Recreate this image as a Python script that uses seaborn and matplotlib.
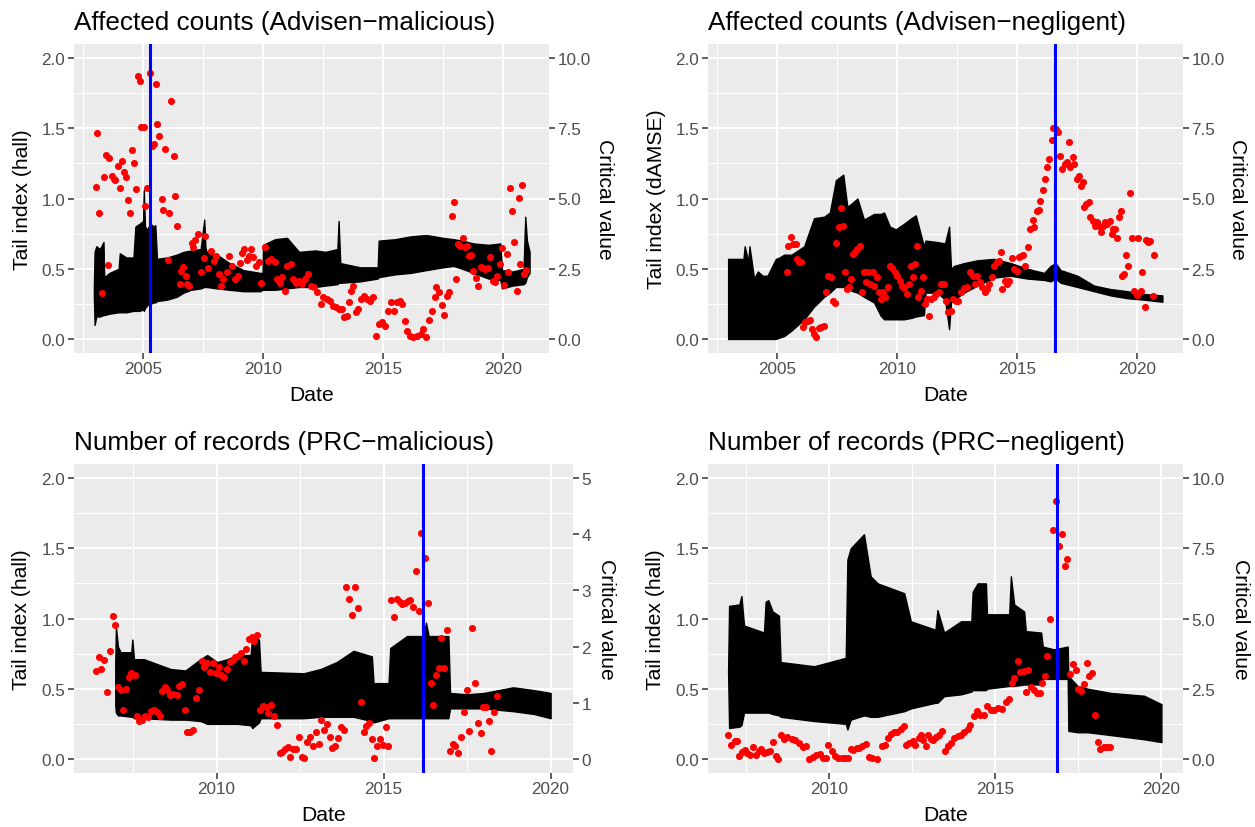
import numpy as np
import pandas as pd
import matplotlib
matplotlib.use("Agg")
import matplotlib.pyplot as plt
import seaborn as sns

# ---------------- data ----------------
titles = ["Affected counts (Advisen\u2212malicious)", "Affected counts (Advisen\u2212negligent)",
          "Number of records (PRC\u2212malicious)", "Number of records (PRC\u2212negligent)"]
left_labels = ["Tail index (hall)", "Tail index (dAMSE)", "Tail index (hall)", "Tail index (hall)"]
right_label = "Critical value"
x_label = "Date"
change_points = [2005.27, 2016.59, 2016.17, 2016.87]

# black band: envelope of the tail-index path (primary axis)
band1_t = [2002.95, 2002.98, 2003.05, 2003.20, 2003.35, 2003.38, 2003.60, 2003.98, 2004.03, 2004.30,
           2004.60, 2004.68, 2004.85, 2005.00, 2005.03, 2005.08, 2005.17, 2005.30, 2005.45, 2005.51,
           2005.58, 2006.00, 2006.40, 2006.69, 2007.00, 2007.40, 2007.55, 2007.60, 2007.65, 2008.08,
           2008.60, 2009.19, 2009.89, 2009.98, 2010.00, 2010.50, 2011.00, 2011.50, 2012.18, 2012.60,
           2013.10, 2013.15, 2013.22, 2014.05, 2014.78, 2014.82, 2015.50, 2016.14, 2016.80, 2017.50,
           2017.94, 2018.30, 2018.77, 2019.40, 2019.89, 2019.96, 2020.40, 2020.86, 2020.93, 2021.00,
           2021.11]
band1_hi = [0.38, 0.62, 0.66, 0.64, 0.69, 0.44, 0.47, 0.50, 0.61, 0.58,
            0.58, 0.80, 0.82, 0.84, 1.06, 0.80, 0.78, 0.82, 0.80, 0.81,
            0.57, 0.58, 0.60, 0.62, 0.63, 0.64, 0.85, 0.65, 0.62, 0.60,
            0.54, 0.49, 0.47, 0.47, 0.67, 0.71, 0.72, 0.62, 0.63, 0.62,
            0.64, 0.84, 0.54, 0.51, 0.51, 0.70, 0.71, 0.73, 0.74, 0.72,
            0.71, 0.70, 0.68, 0.67, 0.68, 0.49, 0.48, 0.50, 0.87, 0.70,
            0.62]
band1_lo = [0.30, 0.10, 0.16, 0.16, 0.17, 0.17, 0.18, 0.19, 0.19, 0.19,
            0.20, 0.20, 0.20, 0.21, 0.20, 0.22, 0.24, 0.25, 0.26, 0.26,
            0.27, 0.28, 0.30, 0.33, 0.35, 0.36, 0.37, 0.37, 0.37, 0.36,
            0.35, 0.34, 0.34, 0.35, 0.35, 0.35, 0.36, 0.37, 0.37, 0.38,
            0.39, 0.40, 0.40, 0.41, 0.43, 0.44, 0.46, 0.47, 0.49, 0.51,
            0.52, 0.50, 0.47, 0.43, 0.42, 0.36, 0.38, 0.39, 0.40, 0.44,
            0.47]

band2_t = [2002.96, 2003.30, 2003.60, 2003.65, 2003.80, 2003.85, 2004.04, 2004.20, 2004.40, 2004.60,
           2004.95, 2005.10, 2005.29, 2005.60, 2006.13, 2006.54, 2006.96, 2007.20, 2007.45, 2007.76,
           2007.93, 2008.15, 2008.35, 2008.62, 2009.04, 2009.32, 2009.46, 2009.70, 2009.95, 2010.29,
           2010.60, 2010.78, 2011.12, 2011.19, 2011.68, 2012.00, 2012.17, 2012.25, 2012.38, 2012.79,
           2013.35, 2014.04, 2014.74, 2015.43, 2016.13, 2016.40, 2016.61, 2016.82, 2017.52, 2018.21,
           2018.90, 2019.60, 2020.29, 2021.06]
band2_hi = [0.57, 0.57, 0.57, 0.66, 0.55, 0.66, 0.43, 0.48, 0.45, 0.45,
            0.57, 0.58, 0.60, 0.60, 0.66, 0.86, 0.87, 0.90, 1.13, 1.17,
            0.94, 0.97, 1.00, 0.85, 0.89, 0.89, 0.90, 0.80, 0.78, 0.82,
            0.86, 0.88, 0.66, 0.70, 0.69, 0.68, 0.80, 0.50, 0.52, 0.54,
            0.56, 0.57, 0.54, 0.50, 0.47, 0.52, 0.54, 0.49, 0.45, 0.38,
            0.355, 0.34, 0.32, 0.31]
band2_lo = [0.0, 0.0, 0.0, 0.0, 0.0, 0.0, 0.0, 0.0, 0.0, 0.0,
            0.0, 0.01, 0.02, 0.06, 0.14, 0.23, 0.30, 0.33, 0.37, 0.37,
            0.36, 0.34, 0.33, 0.30, 0.26, 0.165, 0.14, 0.14, 0.14, 0.14,
            0.15, 0.16, 0.17, 0.33, 0.33, 0.28, 0.07, 0.26, 0.28, 0.33,
            0.38, 0.437, 0.45, 0.43, 0.42, 0.41, 0.43, 0.40, 0.37, 0.34,
            0.31, 0.29, 0.28, 0.265]

band3_t = [2006.97, 2006.99, 2007.05, 2007.13, 2007.45, 2007.48, 2007.53, 2007.83, 2008.63, 2009.07,
           2009.52, 2009.72, 2010.02, 2010.32, 2010.62, 2011.02, 2011.07, 2011.27, 2011.32, 2012.61,
           2013.11, 2013.60, 2014.10, 2014.65, 2014.70, 2015.15, 2015.20, 2015.70, 2016.20, 2016.27,
           2016.35, 2016.94, 2016.99, 2017.50, 2018.00, 2018.88, 2019.50, 2020.00]
band3_hi = [0.68, 0.94, 0.80, 0.76, 0.76, 0.85, 0.71, 0.71, 0.64, 0.63,
            0.71, 0.74, 0.69, 0.71, 0.74, 0.74, 0.87, 0.85, 0.62, 0.61,
            0.64, 0.69, 0.77, 0.73, 0.54, 0.54, 0.79, 0.875, 0.875, 0.97,
            0.875, 0.875, 0.47, 0.46, 0.47, 0.51, 0.49, 0.47]
band3_lo = [0.38, 0.33, 0.31, 0.31, 0.30, 0.30, 0.29, 0.29, 0.28, 0.28,
            0.27, 0.25, 0.25, 0.25, 0.25, 0.24, 0.22, 0.26, 0.29, 0.29,
            0.30, 0.30, 0.30, 0.27, 0.26, 0.29, 0.29, 0.29, 0.29, 0.29,
            0.29, 0.29, 0.36, 0.36, 0.36, 0.34, 0.32, 0.29]

band4_t = [2006.96, 2006.99, 2007.30, 2007.36, 2007.44, 2008.04, 2008.09, 2008.17, 2008.30, 2008.49,
           2008.54, 2009.55, 2010.50, 2010.55, 2010.65, 2011.05, 2011.25, 2011.46, 2012.26, 2012.46,
           2013.20, 2013.26, 2013.46, 2013.97, 2014.28, 2014.32, 2014.47, 2014.72, 2014.75, 2015.42,
           2015.47, 2015.57, 2015.87, 2015.92, 2016.38, 2016.43, 2016.77, 2017.18, 2017.20, 2017.48,
           2017.78, 2018.48, 2019.48, 2020.00]
band4_hi = [0.63, 1.09, 1.10, 1.16, 0.95, 0.90, 1.12, 1.13, 1.05, 1.02,
            0.69, 0.66, 0.72, 1.42, 1.50, 1.60, 1.30, 1.25, 1.18, 0.98,
            0.92, 1.06, 0.90, 0.98, 0.98, 1.19, 1.25, 1.25, 1.03, 1.03,
            1.30, 1.10, 1.05, 0.91, 0.90, 0.80, 0.78, 0.80, 0.59, 0.52,
            0.50, 0.47, 0.45, 0.39]
band4_lo = [0.62, 0.22, 0.23, 0.24, 0.33, 0.33, 0.33, 0.33, 0.32, 0.31,
            0.30, 0.27, 0.25, 0.21, 0.28, 0.31, 0.30, 0.30, 0.34, 0.36,
            0.40, 0.40, 0.447, 0.46, 0.48, 0.49, 0.49, 0.49, 0.50, 0.52,
            0.52, 0.52, 0.53, 0.53, 0.53, 0.57, 0.57, 0.57, 0.20, 0.19,
            0.19, 0.17, 0.14, 0.12]

# red points: critical values, expressed on the primary (tail index) scale
pts1_t = [2003.02, 2003.10, 2003.18, 2003.28, 2003.37, 2003.45, 2003.52, 2003.60, 2003.70, 2003.78,
          2003.85, 2003.95, 2004.03, 2004.12, 2004.20, 2004.28, 2004.37, 2004.45, 2004.52, 2004.62,
          2004.70, 2004.77, 2004.87, 2004.93, 2005.02, 2005.08, 2005.15, 2005.27, 2005.38, 2005.45,
          2005.52, 2005.60, 2005.68, 2005.77, 2005.85, 2005.93, 2006.02, 2006.10, 2006.18, 2006.27,
          2006.35, 2006.43, 2006.52, 2006.60, 2006.68, 2006.77, 2006.85, 2006.93, 2007.02, 2007.10,
          2007.18, 2007.27, 2007.42, 2007.52, 2007.60, 2007.72, 2007.85, 2007.97, 2008.05, 2008.17,
          2008.25, 2008.35, 2008.50, 2008.58, 2008.72, 2008.83, 2008.95, 2009.05, 2009.13, 2009.22,
          2009.32, 2009.40, 2009.50, 2009.60, 2009.70, 2009.82, 2009.93, 2010.08, 2010.22, 2010.35,
          2010.48, 2010.58, 2010.70, 2010.80, 2010.92, 2011.02, 2011.15, 2011.27, 2011.38, 2011.50,
          2011.62, 2011.75, 2011.88, 2012.00, 2012.12, 2012.25, 2012.40, 2012.52, 2012.65, 2012.78,
          2012.92, 2013.05, 2013.17, 2013.28, 2013.38, 2013.48, 2013.58, 2013.68, 2013.77, 2013.87,
          2013.97, 2014.08, 2014.22, 2014.33, 2014.47, 2014.58, 2014.70, 2014.83, 2014.95, 2015.08,
          2015.20, 2015.33, 2015.47, 2015.58, 2015.70, 2015.80, 2015.92, 2016.02, 2016.12, 2016.25,
          2016.42, 2016.58, 2016.68, 2016.80, 2016.92, 2017.05, 2017.15, 2017.23, 2017.33, 2017.45,
          2017.55, 2017.67, 2017.75, 2017.88, 2017.95, 2018.03, 2018.12, 2018.23, 2018.32, 2018.42,
          2018.50, 2018.58, 2018.68, 2018.77, 2018.87, 2018.97, 2019.07, 2019.17, 2019.27, 2019.37,
          2019.47, 2019.57, 2019.67, 2019.77, 2019.87, 2019.97, 2020.05, 2020.15, 2020.23, 2020.30,
          2020.38, 2020.48, 2020.57, 2020.65, 2020.73, 2020.80, 2020.88, 2020.95]
pts1_v = [1.084, 1.464, 0.900, 0.325, 1.155, 1.310, 0.530, 1.286, 1.160, 1.140,
          1.130, 1.230, 1.075, 1.265, 1.190, 1.155, 0.990, 0.900, 1.347, 1.255,
          1.065, 1.874, 1.834, 1.510, 1.510, 0.950, 1.075, 1.895, 1.374, 1.386,
          1.815, 1.528, 1.447, 0.996, 0.918, 1.352, 0.565, 0.900, 1.696, 1.305,
          1.020, 0.807, 0.390, 0.486, 0.515, 0.450, 0.390, 0.380, 0.683, 0.652,
          0.707, 0.745, 0.474, 0.574, 0.735, 0.503, 0.629, 0.555, 0.588, 0.463,
          0.380, 0.427, 0.474, 0.588, 0.520, 0.427, 0.450, 0.540, 0.612, 0.640,
          0.565, 0.593, 0.640, 0.586, 0.522, 0.546, 0.400, 0.652, 0.557, 0.569,
          0.546, 0.427, 0.400, 0.440, 0.340, 0.522, 0.534, 0.427, 0.400, 0.415,
          0.390, 0.427, 0.463, 0.380, 0.368, 0.332, 0.249, 0.297, 0.285, 0.273,
          0.237, 0.225, 0.214, 0.214, 0.154, 0.166, 0.261, 0.344, 0.380, 0.190,
          0.214, 0.285, 0.308, 0.285, 0.273, 0.297, 0.024, 0.107, 0.119, 0.095,
          0.202, 0.261, 0.202, 0.261, 0.273, 0.249, 0.130, 0.059, 0.024, 0.012,
          0.019, 0.036, 0.071, 0.012, 0.138, 0.202, 0.297, 0.368, 0.332, 0.242,
          0.171, 0.308, 0.337, 0.878, 0.977, 0.427, 0.676, 0.664, 0.719, 0.652,
          0.664, 0.593, 0.598, 0.486, 0.432, 0.380, 0.510, 0.503, 0.498, 0.503,
          0.581, 0.415, 0.408, 0.450, 0.534, 0.645, 0.384, 0.605, 0.479, 1.072,
          0.911, 0.688, 0.340, 1.001, 0.534, 1.096, 0.463, 0.493]

pts2_t = [2005.42, 2005.47, 2005.57, 2005.67, 2005.77, 2005.83, 2005.93, 2006.00, 2006.07, 2006.17,
          2006.27, 2006.37, 2006.44, 2006.54, 2006.64, 2006.74, 2006.84, 2006.94, 2007.04, 2007.14,
          2007.24, 2007.34, 2007.40, 2007.47, 2007.57, 2007.65, 2007.74, 2007.82, 2007.92, 2008.00,
          2008.09, 2008.17, 2008.26, 2008.34, 2008.44, 2008.54, 2008.62, 2008.71, 2008.81, 2008.89,
          2008.99, 2009.06, 2009.16, 2009.24, 2009.32, 2009.41, 2009.51, 2009.61, 2009.71, 2009.81,
          2009.91, 2010.00, 2010.11, 2010.21, 2010.31, 2010.41, 2010.51, 2010.58, 2010.68, 2010.74,
          2010.83, 2010.89, 2010.99, 2011.08, 2011.18, 2011.24, 2011.33, 2011.43, 2011.54, 2011.64,
          2011.74, 2011.84, 2011.94, 2012.04, 2012.14, 2012.24, 2012.34, 2012.44, 2012.54, 2012.68,
          2012.78, 2012.91, 2013.05, 2013.15, 2013.25, 2013.35, 2013.45, 2013.55, 2013.65, 2013.75,
          2013.85, 2013.95, 2014.05, 2014.15, 2014.25, 2014.32, 2014.38, 2014.48, 2014.58, 2014.68,
          2014.78, 2014.88, 2014.98, 2015.08, 2015.18, 2015.27, 2015.35, 2015.47, 2015.55, 2015.65,
          2015.73, 2015.82, 2015.90, 2015.98, 2016.07, 2016.17, 2016.27, 2016.35, 2016.44, 2016.52,
          2016.64, 2016.72, 2016.80, 2016.89, 2016.99, 2017.07, 2017.15, 2017.22, 2017.32, 2017.39,
          2017.49, 2017.57, 2017.65, 2017.74, 2017.80, 2017.89, 2017.99, 2018.06, 2018.16, 2018.24,
          2018.32, 2018.42, 2018.49, 2018.59, 2018.66, 2018.76, 2018.86, 2018.94, 2019.02, 2019.09,
          2019.17, 2019.26, 2019.32, 2019.39, 2019.47, 2019.54, 2019.64, 2019.72, 2019.81, 2019.89,
          2019.99, 2020.06, 2020.16, 2020.23, 2020.33, 2020.39, 2020.48, 2020.56, 2020.66, 2020.73]
pts2_v = [0.474, 0.664, 0.724, 0.676, 0.676, 0.569, 0.546, 0.550, 0.083, 0.119,
          0.130, 0.138, 0.071, 0.036, 0.012, 0.076, 0.083, 0.095, 0.332, 0.450,
          0.439, 0.273, 0.256, 0.683, 0.795, 0.930, 0.807, 0.479, 0.356, 0.368,
          0.427, 0.605, 0.617, 0.640, 0.664, 0.332, 0.474, 0.403, 0.474, 0.391,
          0.474, 0.380, 0.439, 0.332, 0.285, 0.332, 0.297, 0.368, 0.522, 0.503,
          0.479, 0.450, 0.415, 0.380, 0.360, 0.320, 0.391, 0.522, 0.439, 0.534,
          0.664, 0.297, 0.344, 0.439, 0.249, 0.285, 0.166, 0.285, 0.297, 0.320,
          0.332, 0.391, 0.391, 0.273, 0.190, 0.202, 0.285, 0.273, 0.273, 0.332,
          0.360, 0.368, 0.474, 0.450, 0.391, 0.450, 0.403, 0.368, 0.332, 0.356,
          0.391, 0.439, 0.522, 0.546, 0.557, 0.617, 0.356, 0.415, 0.391, 0.415,
          0.574, 0.498, 0.486, 0.581, 0.588, 0.598, 0.522, 0.652, 0.783, 0.849,
          0.800, 0.911, 0.920, 0.980, 1.063, 1.139, 1.222, 1.281, 1.419, 1.499,
          1.495, 1.471, 1.305, 1.210, 1.246, 1.262, 1.400, 1.222, 1.293, 1.246,
          1.139, 1.163, 1.091, 1.115, 0.937, 0.961, 0.973, 0.866, 0.842, 0.807,
          0.835, 0.807, 0.759, 0.807, 0.830, 0.819, 0.842, 0.747, 0.783, 0.783,
          0.717, 0.866, 0.913, 0.450, 0.463, 0.598, 0.522, 1.039, 0.717, 0.344,
          0.313, 0.717, 0.344, 0.474, 0.225, 0.707, 0.693, 0.700, 0.308, 0.598]

pts3_t = [2006.38, 2006.47, 2006.55, 2006.63, 2006.72, 2006.80, 2006.89, 2006.97, 2007.04, 2007.13,
          2007.21, 2007.30, 2007.37, 2007.45, 2007.55, 2007.62, 2007.69, 2007.78, 2007.86, 2007.96,
          2008.04, 2008.13, 2008.22, 2008.30, 2008.38, 2008.46, 2008.53, 2008.62, 2008.71, 2008.81,
          2008.89, 2008.98, 2009.05, 2009.12, 2009.21, 2009.29, 2009.39, 2009.47, 2009.56, 2009.64,
          2009.72, 2009.81, 2009.89, 2009.98, 2010.06, 2010.14, 2010.23, 2010.31, 2010.40, 2010.48,
          2010.56, 2010.65, 2010.73, 2010.81, 2010.89, 2010.96, 2011.05, 2011.13, 2011.21, 2011.30,
          2011.38, 2011.47, 2011.55, 2011.63, 2011.72, 2011.80, 2011.89, 2011.96, 2012.04, 2012.13,
          2012.21, 2012.30, 2012.39, 2012.48, 2012.55, 2012.63, 2012.72, 2012.80, 2012.88, 2012.97,
          2013.06, 2013.14, 2013.22, 2013.31, 2013.39, 2013.47, 2013.56, 2013.64, 2013.73, 2013.81,
          2013.89, 2013.98, 2014.06, 2014.15, 2014.23, 2014.31, 2014.40, 2014.47, 2014.56, 2014.64,
          2014.72, 2014.81, 2014.89, 2014.98, 2015.06, 2015.14, 2015.23, 2015.31, 2015.40, 2015.48,
          2015.56, 2015.64, 2015.72, 2015.79, 2015.88, 2015.96, 2016.05, 2016.13, 2016.25, 2016.32,
          2016.41, 2016.48, 2016.56, 2016.65, 2016.73, 2016.81, 2016.90, 2016.98, 2017.07, 2017.15,
          2017.24, 2017.32, 2017.40, 2017.49, 2017.57, 2017.66, 2017.74, 2017.82, 2017.91, 2017.99,
          2018.08, 2018.15, 2018.23, 2018.32, 2018.40]
pts3_v = [0.626, 0.724, 0.643, 0.705, 0.479, 0.766, 1.020, 0.956, 0.510, 0.491,
          0.349, 0.496, 0.581, 0.610, 0.600, 0.308, 0.273, 0.278, 0.308, 0.301,
          0.344, 0.349, 0.332, 0.308, 0.482, 0.515, 0.491, 0.458, 0.463, 0.458,
          0.522, 0.534, 0.349, 0.190, 0.190, 0.206, 0.434, 0.491, 0.695, 0.657,
          0.681, 0.617, 0.681, 0.610, 0.652, 0.600, 0.581, 0.640, 0.688, 0.705,
          0.724, 0.735, 0.752, 0.700, 0.783, 0.854, 0.866, 0.842, 0.885, 0.349,
          0.380, 0.372, 0.325, 0.387, 0.308, 0.244, 0.040, 0.047, 0.071, 0.083,
          0.012, 0.071, 0.071, 0.159, 0.012, 0.007, 0.119, 0.154, 0.095, 0.190,
          0.107, 0.278, 0.206, 0.249, 0.159, 0.078, 0.095, 0.149, 0.225, 0.206,
          1.227, 1.139, 1.027, 1.227, 1.072, 0.403, 0.190, 0.237, 0.254, 0.142,
          0.007, 0.090, 0.142, 0.102, 0.230, 0.095, 1.132, 1.013, 1.139, 1.115,
          1.103, 1.108, 1.122, 1.132, 1.079, 1.340, 1.051, 1.606, 1.431, 1.108,
          0.539, 0.384, 0.600, 0.645, 0.861, 0.648, 0.918, 0.059, 0.107, 0.095,
          0.040, 0.159, 0.332, 0.491, 0.197, 0.932, 0.539, 0.254, 0.183, 0.368,
          0.368, 0.268, 0.059, 0.332, 0.451]

pts4_t = [2006.96, 2007.04, 2007.16, 2007.24, 2007.29, 2007.39, 2007.46, 2007.52, 2007.62, 2007.72,
          2007.80, 2007.89, 2007.96, 2008.04, 2008.12, 2008.21, 2008.31, 2008.39, 2008.47, 2008.54,
          2008.64, 2008.74, 2008.87, 2008.97, 2009.10, 2009.20, 2009.30, 2009.40, 2009.50, 2009.60,
          2009.73, 2009.83, 2009.90, 2009.98, 2010.08, 2010.18, 2010.28, 2010.38, 2010.48, 2010.57,
          2010.65, 2010.73, 2010.83, 2010.91, 2011.00, 2011.10, 2011.20, 2011.30, 2011.45, 2011.58,
          2011.69, 2011.76, 2011.86, 2011.96, 2012.04, 2012.16, 2012.24, 2012.31, 2012.41, 2012.51,
          2012.59, 2012.69, 2012.76, 2012.84, 2012.91, 2012.98, 2013.06, 2013.14, 2013.23, 2013.31,
          2013.39, 2013.49, 2013.58, 2013.67, 2013.77, 2013.87, 2013.97, 2014.07, 2014.17, 2014.25,
          2014.35, 2014.45, 2014.55, 2014.65, 2014.74, 2014.87, 2014.97, 2015.07, 2015.19, 2015.32,
          2015.42, 2015.49, 2015.57, 2015.67, 2015.75, 2015.85, 2015.92, 2016.00, 2016.07, 2016.17,
          2016.26, 2016.35, 2016.42, 2016.50, 2016.57, 2016.65, 2016.73, 2016.84, 2016.93, 2017.00,
          2017.10, 2017.16, 2017.26, 2017.34, 2017.44, 2017.50, 2017.58, 2017.68, 2017.76, 2017.83,
          2017.90, 2018.00, 2018.08, 2018.16, 2018.26, 2018.36, 2018.44]
pts4_v = [0.174, 0.102, 0.126, 0.126, 0.024, 0.048, 0.067, 0.043, 0.031, 0.086,
          0.031, 0.055, 0.071, 0.043, 0.048, 0.055, 0.120, 0.024, 0.000, 0.167,
          0.143, 0.155, 0.143, 0.138, 0.114, 0.086, 0.095, 0.000, 0.012, 0.031,
          0.038, 0.007, 0.007, 0.102, 0.055, 0.024, 0.007, 0.007, 0.007, 0.007,
          0.071, 0.067, 0.079, 0.079, 0.090, 0.110, 0.014, 0.007, 0.002, 0.095,
          0.102, 0.150, 0.181, 0.190, 0.190, 0.214, 0.233, 0.102, 0.114, 0.126,
          0.102, 0.150, 0.167, 0.138, 0.095, 0.174, 0.143, 0.138, 0.157, 0.174,
          0.198, 0.055, 0.090, 0.114, 0.150, 0.162, 0.174, 0.190, 0.210, 0.245,
          0.305, 0.340, 0.316, 0.310, 0.376, 0.352, 0.347, 0.364, 0.357, 0.405,
          0.429, 0.538, 0.579, 0.698, 0.619, 0.626, 0.476, 0.633, 0.512, 0.488,
          0.467, 0.467, 0.538, 0.590, 0.733, 0.995, 1.633, 1.838, 1.519, 1.600,
          1.376, 1.424, 0.607, 0.674, 0.631, 0.495, 0.483, 0.536, 0.686, 0.590,
          0.614, 0.312, 0.120, 0.071, 0.086, 0.086, 0.086]

left_ticks = [0.0, 0.5, 1.0, 1.5, 2.0]
left_tick_labels = ["0.0", "0.5", "1.0", "1.5", "2.0"]
top_year_ticks = [2005, 2010, 2015, 2020]
bottom_year_ticks = [2010, 2015, 2020]
right_ticks_10 = [0.0, 2.5, 5.0, 7.5, 10.0]
right_labels_10 = ["0.0", "2.5", "5.0", "7.5", "10.0"]
right_ticks_5 = [0, 1, 2, 3, 4, 5]
right_labels_5 = ["0", "1", "2", "3", "4", "5"]

for a, b in [(band1_t, band1_hi), (band1_t, band1_lo), (band2_t, band2_hi), (band2_t, band2_lo),
             (band3_t, band3_hi), (band3_t, band3_lo), (band4_t, band4_hi), (band4_t, band4_lo),
             (pts1_t, pts1_v), (pts2_t, pts2_v), (pts3_t, pts3_v), (pts4_t, pts4_v)]:
    assert len(a) == len(b), (len(a), len(b))

# ---------------- style ----------------
sns.set_theme(style="darkgrid", rc={"axes.facecolor": "#EBEBEB", "grid.color": "white",
                                     "figure.facecolor": "white"})
plt.rcParams["font.family"] = ["Liberation Sans", "DejaVu Sans"]

W, H = 1255, 828
fig = plt.figure(figsize=(W / 100, H / 100), dpi=100)


def px_rect(l, t, r, b):
    return [l / W, 1 - b / H, (r - l) / W, (b - t) / H]


TICK_FS = 12.3
LAB_FS = 15.2
TITLE_FS = 18.8


def panel(rect, title, ylab, bt, blo, bhi, pt, pv, vx, xlim, xmaj, xmin,
          sec_scale, sec_ticks, sec_labels, ylab_x, sec_x, xlab_y):
    ax = fig.add_axes(rect)
    ax.set_facecolor("#EBEBEB")
    for s in ax.spines.values():
        s.set_visible(False)
    ax.fill_between(bt, blo, bhi, color="black", linewidth=1.0, zorder=2)
    df = pd.DataFrame({"Date": pt, "crit": pv})
    sns.scatterplot(data=df, x="Date", y="crit", ax=ax, color="red", s=26,
                    linewidth=0, zorder=3, legend=False)
    ax.axvline(vx, color="blue", linewidth=2.2, zorder=4)
    ax.set_xlim(*xlim)
    ax.set_ylim(-0.1, 2.1)
    ax.set_xticks(xmaj)
    ax.set_xticklabels([str(v) for v in xmaj])
    ax.set_xticks(xmin, minor=True)
    ax.set_yticks(left_ticks)
    ax.set_yticklabels(left_tick_labels)
    ax.set_yticks([0.25, 0.75, 1.25, 1.75], minor=True)
    ax.grid(which="major", color="white", linewidth=1.5)
    ax.grid(which="minor", color="white", linewidth=0.75)
    ax.tick_params(which="major", length=4, width=1.1, color="#333333",
                   labelsize=TICK_FS, labelcolor="#4D4D4D", pad=2,
                   bottom=True, left=True)
    ax.tick_params(which="minor", length=0)
    ax.set_xlabel(x_label, fontsize=LAB_FS, color="black")
    ax.set_ylabel(ylab, fontsize=LAB_FS, color="black")
    ax.yaxis.set_label_coords(ylab_x, 0.5)
    ax.xaxis.set_label_coords(0.5, xlab_y)
    ax.set_title(title, loc="left", fontsize=TITLE_FS, pad=11, color="black")

    ax2 = ax.twinx()
    ax2.grid(False)
    for s in ax2.spines.values():
        s.set_visible(False)
    ax2.set_ylim(-0.1 * sec_scale, 2.1 * sec_scale)
    ax2.set_yticks(sec_ticks)
    ax2.set_yticklabels(sec_labels)
    ax2.tick_params(which="major", length=4, width=1.1, color="#333333",
                    labelsize=TICK_FS, labelcolor="#4D4D4D", pad=2, right=True)
    ax2.set_ylabel(right_label, fontsize=LAB_FS, rotation=270, va="bottom", color="black")
    ax2.yaxis.set_label_coords(sec_x, 0.5)
    return ax


panel(px_rect(73.5, 45, 549, 354), titles[0], left_labels[0],
      band1_t, band1_lo, band1_hi, pts1_t, pts1_v, change_points[0],
      (2002.1, 2021.92), top_year_ticks, [2002.5, 2007.5, 2012.5, 2017.5],
      5, right_ticks_10, right_labels_10, -0.087, 1.097, -0.104)
panel(px_rect(707.5, 45, 1183, 354), titles[1], left_labels[1],
      band2_t, band2_lo, band2_hi, pts2_t, pts2_v, change_points[1],
      (2002.1, 2021.92), top_year_ticks, [2002.5, 2007.5, 2012.5, 2017.5],
      5, right_ticks_10, right_labels_10, -0.088, 1.094, -0.104)
panel(px_rect(73.5, 465, 573, 774), titles[2], left_labels[2],
      band3_t, band3_lo, band3_hi, pts3_t, pts3_v, change_points[2],
      (2005.72, 2020.67), bottom_year_ticks, [2007.5, 2012.5, 2017.5],
      2.5, right_ticks_5, right_labels_5, -0.086, 1.048, -0.103)
panel(px_rect(707.5, 465, 1183, 774), titles[3], left_labels[3],
      band4_t, band4_lo, band4_hi, pts4_t, pts4_v, change_points[3],
      (2006.34, 2020.65), bottom_year_ticks, [2007.5, 2012.5, 2017.5],
      5, right_ticks_10, right_labels_10, -0.09, 1.10, -0.103)

fig.savefig("out.png", dpi=100)
